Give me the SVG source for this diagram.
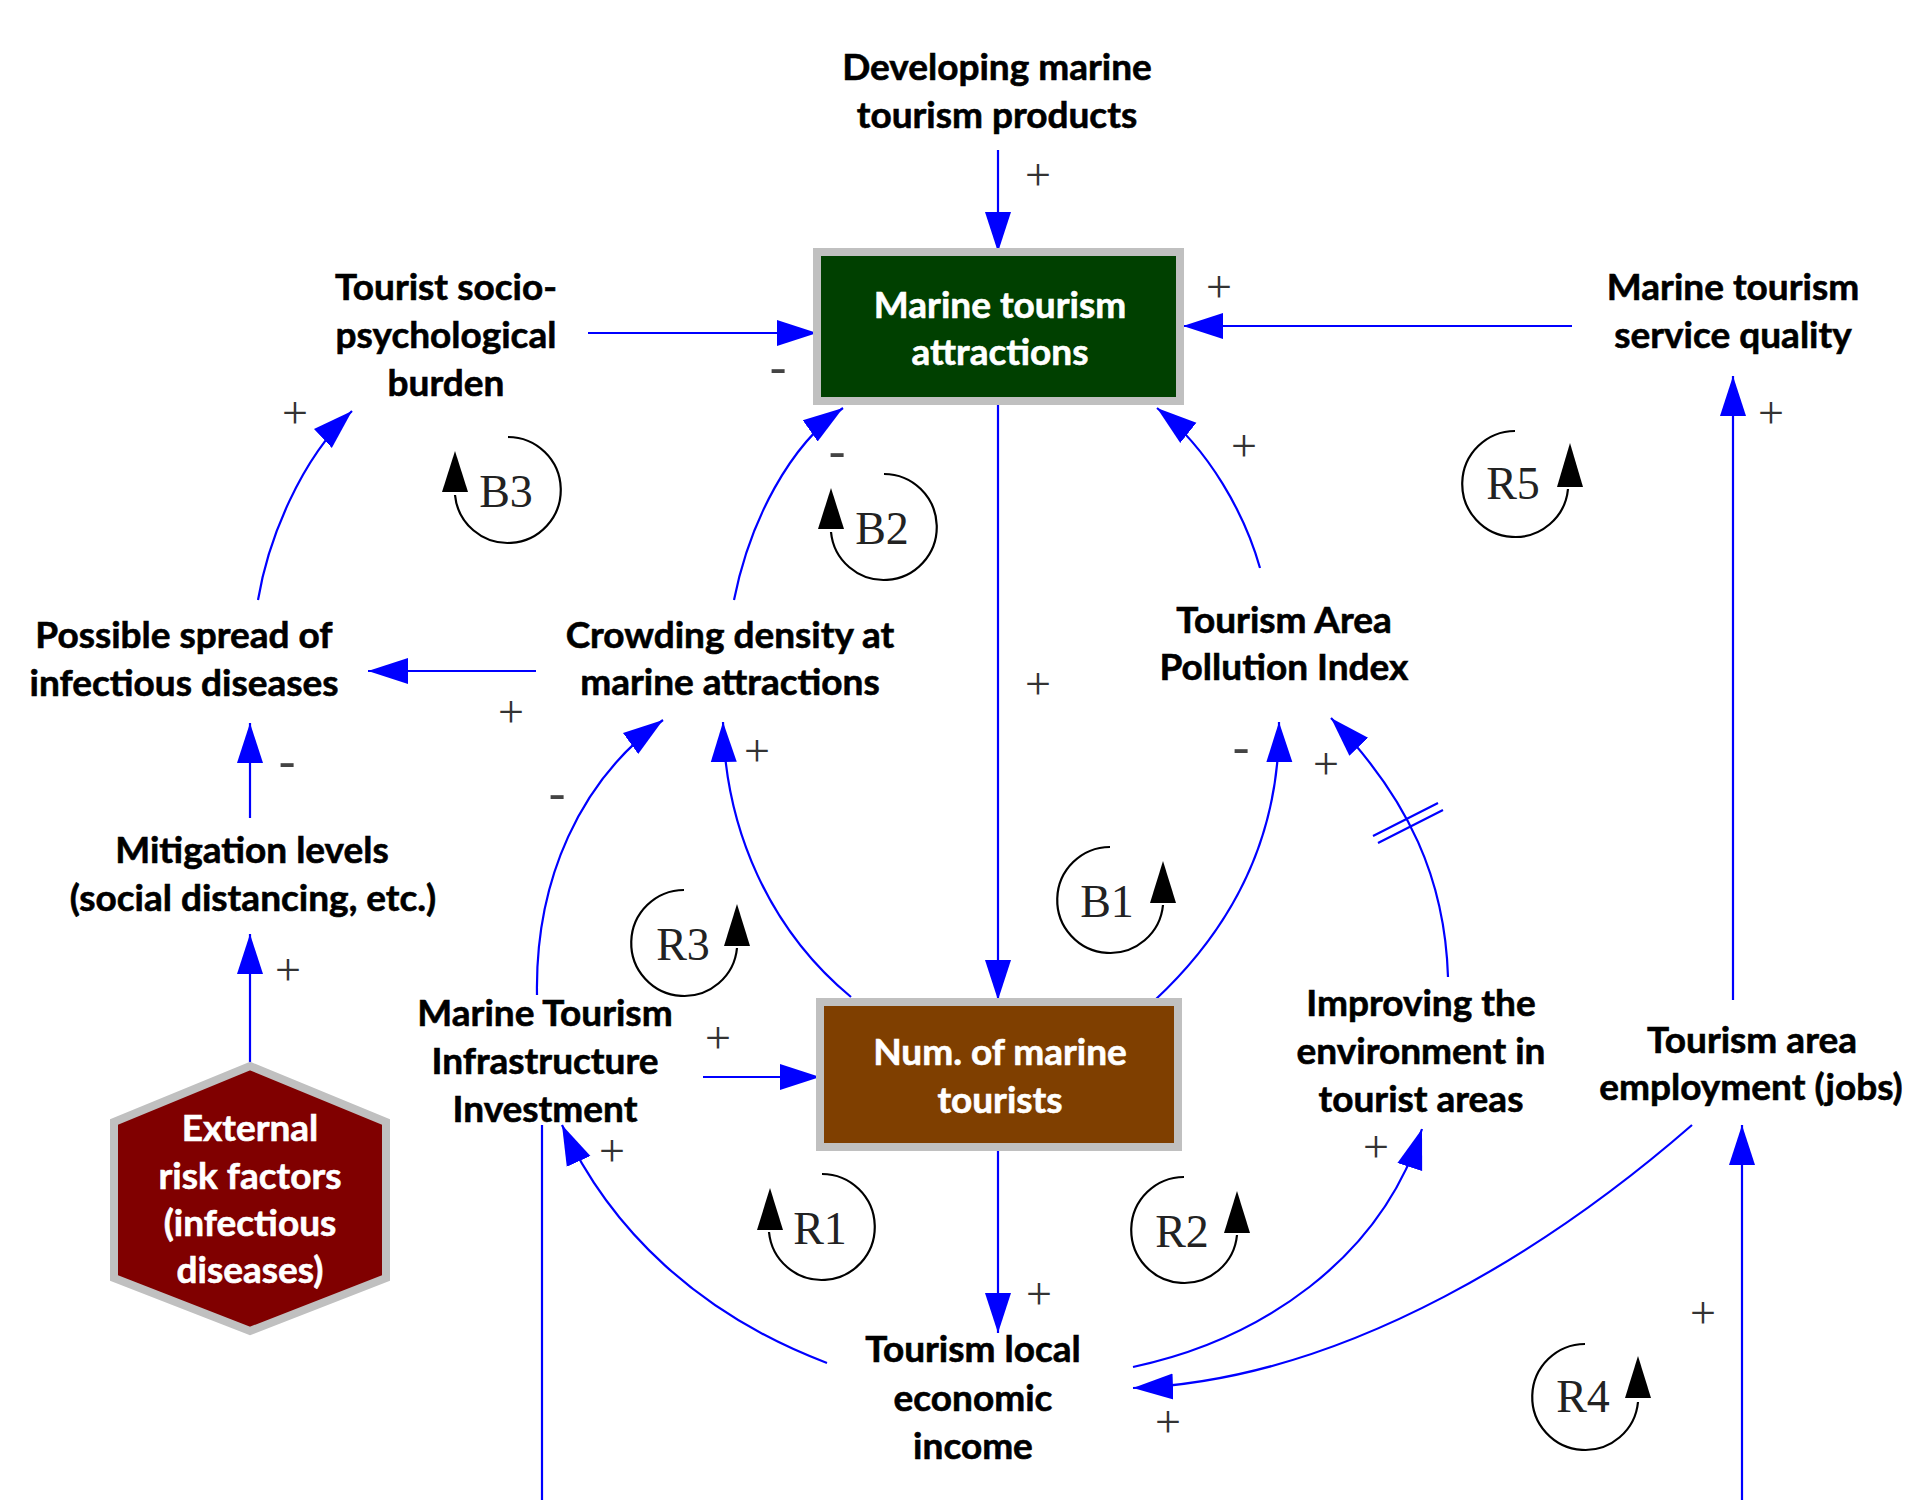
<svg xmlns="http://www.w3.org/2000/svg" width="1914" height="1500" viewBox="0 0 1914 1500">
<style>
.lbl{font-family:Lato,"Open Sans","Liberation Sans",sans-serif;font-weight:700;font-size:37px;fill:#000;stroke:#000;stroke-width:0.6;text-anchor:middle}
.wl{fill:#fff;stroke:#fff}
.sg{font-family:"Liberation Serif","Times New Roman",serif;font-size:46px;fill:#333;text-anchor:middle}
.mn{font-family:"Liberation Serif","Times New Roman",serif;font-size:50px;fill:#444;text-anchor:middle}
.lp{font-family:"Liberation Serif","Times New Roman",serif;font-size:46px;fill:#222;text-anchor:middle}
.c{fill:none;stroke:#0000ff;stroke-width:2.2}
.ar{marker-end:url(#ah)}
.loop{fill:none;stroke:#000;stroke-width:2.2}
.lah{fill:#000}
.box{stroke:#c0c0c0;stroke-width:8}
</style>
<defs>
<marker id="ah" markerUnits="userSpaceOnUse" markerWidth="44" markerHeight="30" refX="40" refY="13" orient="auto" viewBox="0 0 44 26">
<path d="M40,13 L0,0 L0,26 Z" fill="#0000ff"/>
</marker>
</defs>

<g id="connectors">
<path class="c ar" d="M998,150 L998,252"/>
<path class="c ar" d="M588,333 L817,333"/>
<path class="c ar" d="M1572,326 L1183,326"/>
<path class="c ar" d="M1733,1000 L1733,376"/>
<path class="c ar" d="M998,405 L998,1000"/>
<path class="c ar" d="M536,671 L368,671"/>
<path class="c ar" d="M250,818 L250,723"/>
<path class="c ar" d="M250,1062 L250,934"/>
<path class="c ar" d="M703,1077 L820,1077"/>
<path class="c ar" d="M998,1151 L998,1333"/>
<path class="c" d="M542,1125 L542,1500"/>
<path class="c ar" d="M1742,1500 L1742,1125"/>
<path class="c ar" d="M258,600 C268,540 300,460 352,411"/>
<path class="c ar" d="M734,600 C750,520 790,445 843,408"/>
<path class="c ar" d="M1260,568 C1245,515 1210,450 1157,408"/>
<path class="c ar" d="M851,997 C770,930 725,830 723,722"/>
<path class="c ar" d="M537,995 C535,880 580,780 663,720"/>
<path class="c ar" d="M1155,1000 C1230,930 1280,840 1279,722"/>
<path class="c ar" d="M1448,977 C1445,880 1410,800 1331,718"/>
<path class="c" d="M1373,836 L1438,803 M1378,843 L1443,810"/>
<path class="c ar" d="M827,1363 C700,1315 610,1230 562,1125"/>
<path class="c ar" d="M1692,1125 C1560,1240 1350,1380 1133,1388"/>
<path class="c ar" d="M1133,1367 C1260,1340 1380,1260 1422,1129"/>
</g>

<g id="signs">
<text class="sg" x="1038" y="190">+</text>
<text class="mn" x="778" y="383">-</text>
<text class="sg" x="1219" y="302">+</text>
<text class="sg" x="1771" y="428">+</text>
<text class="sg" x="295" y="428">+</text>
<text class="mn" x="837" y="467">-</text>
<text class="sg" x="1244" y="461">+</text>
<text class="sg" x="1038" y="699">+</text>
<text class="sg" x="511" y="727">+</text>
<text class="mn" x="287" y="777">-</text>
<text class="mn" x="557" y="809">-</text>
<text class="sg" x="757" y="766">+</text>
<text class="mn" x="1241" y="763">-</text>
<text class="sg" x="1326" y="779">+</text>
<text class="sg" x="288" y="985">+</text>
<text class="sg" x="718" y="1053">+</text>
<text class="sg" x="612" y="1166">+</text>
<text class="sg" x="1039" y="1309">+</text>
<text class="sg" x="1376" y="1162">+</text>
<text class="sg" x="1703" y="1328">+</text>
<text class="sg" x="1168" y="1437">+</text>
</g>

<g id="loops">
<g id="loop-B3"><path class="loop" d="M508,437 A53,53 0 1 1 455,495"/><path class="lah" d="M455,451 L442,492 L468,492 Z"/><text class="lp" x="506" y="507">B3</text></g>
<g id="loop-B2"><path class="loop" d="M884,474 A53,53 0 1 1 831,532"/><path class="lah" d="M831,488 L818,529 L844,529 Z"/><text class="lp" x="882" y="544">B2</text></g>
<g id="loop-R5"><path class="loop" d="M1515,431 A53,53 0 1 0 1568,489"/><path class="lah" d="M1570,443 L1557,487 L1583,487 Z"/><text class="lp" x="1513" y="499">R5</text></g>
<g id="loop-B1"><path class="loop" d="M1110,847 A53,53 0 1 0 1163,905"/><path class="lah" d="M1163,861 L1150,903 L1176,903 Z"/><text class="lp" x="1107" y="917">B1</text></g>
<g id="loop-R3"><path class="loop" d="M684,890 A53,53 0 1 0 737,948"/><path class="lah" d="M737,904 L724,946 L750,946 Z"/><text class="lp" x="683" y="960">R3</text></g>
<g id="loop-R1"><path class="loop" d="M822,1174 A53,53 0 1 1 769,1232"/><path class="lah" d="M770,1188 L757,1230 L783,1230 Z"/><text class="lp" x="820" y="1244">R1</text></g>
<g id="loop-R2"><path class="loop" d="M1184,1177 A53,53 0 1 0 1237,1235"/><path class="lah" d="M1237,1191 L1224,1233 L1250,1233 Z"/><text class="lp" x="1182" y="1247">R2</text></g>
<g id="loop-R4"><path class="loop" d="M1585,1344 A53,53 0 1 0 1638,1402"/><path class="lah" d="M1638,1356 L1625,1398 L1651,1398 Z"/><text class="lp" x="1583" y="1412">R4</text></g>
</g>

<g id="n-developing"><text class="lbl" x="997" y="80">Developing marine</text><text class="lbl" x="997" y="128">tourism products</text></g>
<g id="n-attractions"><rect class="box" x="817" y="252" width="363" height="149" fill="#004000"/><text class="lbl wl" x="1000" y="318">Marine tourism</text><text class="lbl wl" x="1000" y="365">attractions</text></g>
<g id="n-burden"><text class="lbl" x="446" y="300">Tourist socio-</text><text class="lbl" x="446" y="348">psychological</text><text class="lbl" x="446" y="396">burden</text></g>
<g id="n-service"><text class="lbl" x="1733" y="300">Marine tourism</text><text class="lbl" x="1733" y="348">service quality</text></g>
<g id="n-spread"><text class="lbl" x="184" y="648">Possible spread of</text><text class="lbl" x="184" y="696">infectious diseases</text></g>
<g id="n-crowding"><text class="lbl" x="730" y="648">Crowding density at</text><text class="lbl" x="730" y="695">marine attractions</text></g>
<g id="n-pollution"><text class="lbl" x="1284" y="633">Tourism Area</text><text class="lbl" x="1284" y="680">Pollution Index</text></g>
<g id="n-mitigation"><text class="lbl" x="252" y="863">Mitigation levels</text><text class="lbl" x="253" y="911">(social distancing, etc.)</text></g>
<g id="n-infrastructure"><text class="lbl" x="545" y="1026">Marine Tourism</text><text class="lbl" x="545" y="1074">Infrastructure</text><text class="lbl" x="545" y="1122">Investment</text></g>
<g id="n-tourists"><rect class="box" x="820" y="1002" width="358" height="145" fill="#7f3f00"/><text class="lbl wl" x="1000" y="1065">Num. of marine</text><text class="lbl wl" x="1000" y="1113">tourists</text></g>
<g id="n-improving"><text class="lbl" x="1421" y="1016">Improving the</text><text class="lbl" x="1421" y="1064">environment in</text><text class="lbl" x="1421" y="1112">tourist areas</text></g>
<g id="n-employment"><text class="lbl" x="1752" y="1053">Tourism area</text><text class="lbl" x="1751" y="1100">employment (jobs)</text></g>
<g id="n-income"><text class="lbl" x="973" y="1362">Tourism local</text><text class="lbl" x="973" y="1411">economic</text><text class="lbl" x="973" y="1459">income</text></g>
<g id="n-external"><polygon class="box" points="250,1066 386,1122 386,1278 250,1331 114,1278 114,1122" fill="#800000"/><text class="lbl wl" x="250" y="1141">External</text><text class="lbl wl" x="250" y="1189">risk factors</text><text class="lbl wl" x="250" y="1236">(infectious</text><text class="lbl wl" x="250" y="1283">diseases)</text></g>
</svg>
